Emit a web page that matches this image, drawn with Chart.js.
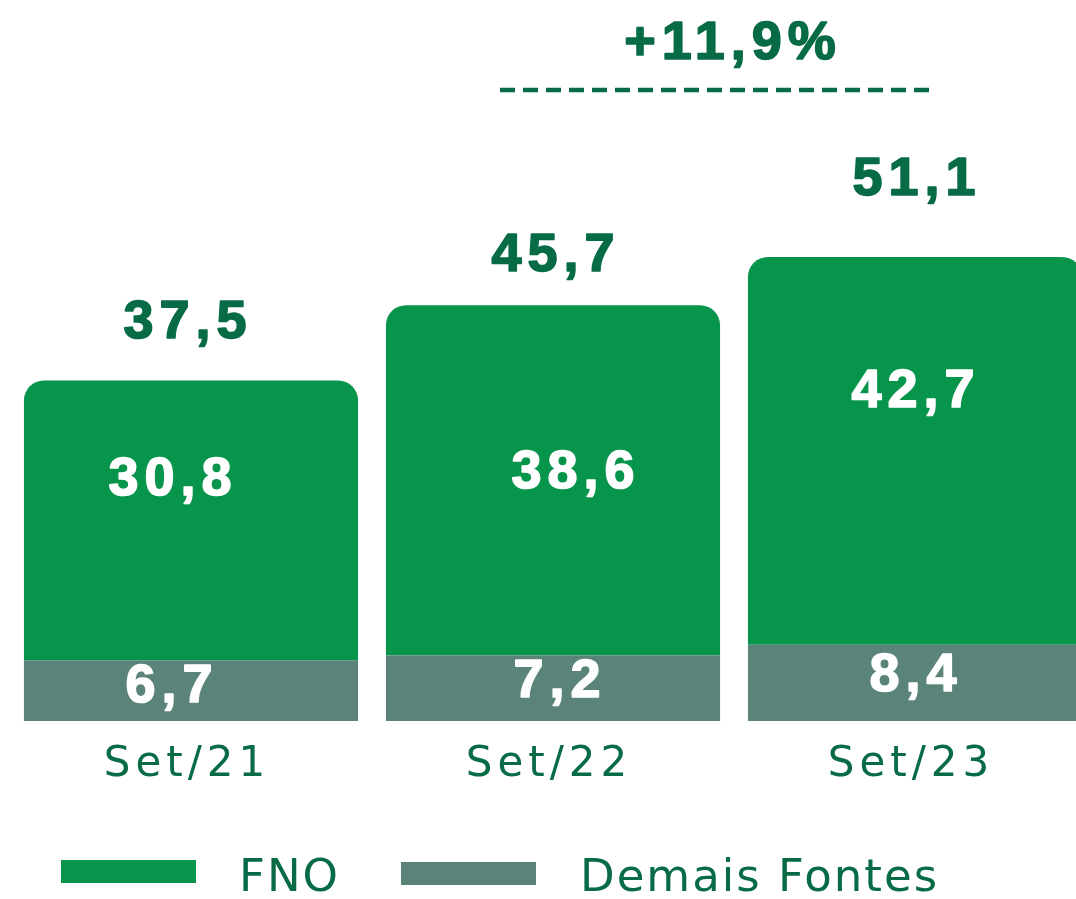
<!DOCTYPE html>
<html>
<head>
<meta charset="utf-8">
<script src="https://cdn.jsdelivr.net/npm/chart.js@4.4.1/dist/chart.umd.min.js"></script>
<style>
    html, body { margin: 0; padding: 0; background: #fff; overflow: hidden; }
    #wrap { position: relative; width: 1100px; height: 899px; }
</style>
</head>
<body>
<div id="wrap"><canvas id="chart"></canvas></div>
<script>
// Data
const categories = ['Set/21', 'Set/22', 'Set/23'];
const fnoValues = [30.8, 38.6, 42.7];
const demaisValues = [6.7, 7.2, 8.4];
const totalValues = [37.5, 45.7, 51.1];
const seriesNames = ['FNO', 'Demais Fontes'];
const growthLabel = '+11,9%';

// Colours and label nudges (style only)
const GREEN = '#07954c';
const GREY = '#5a837a';
const DARK = '#076c46';
const totalLift = [57, 49, 77];
const totalShift = [-6, 0, -1];
const fnoNudge = [[-21, -40], [20, -7], [-2, -59]];
const demaisNudge = [[-22, -3], [4, -6], [-2, -7]];

const fmt = v => v.toFixed(1).replace('.', ',');
const BOLD = 'bold 54px "Liberation Sans", Arial, sans-serif';
const REG = '"DejaVu Sans", sans-serif';

// bold text, thickened a little with a stroke
function heavyText(ctx, text, x, y, color) {
    ctx.fillStyle = color;
    ctx.strokeStyle = color;
    ctx.lineWidth = 1.6;
    ctx.fillText(text, x, y);
    ctx.strokeText(text, x, y);
}

// value labels, totals, growth bracket and legend
const labelsPlugin = {
    id: 'labels',
    beforeDraw(chart) {
        chart.ctx.letterSpacing = '5px';
    },
    afterDraw(chart) {
        const ctx = chart.ctx;
        const greyMeta = chart.getDatasetMeta(0);
        const greenMeta = chart.getDatasetMeta(1);
        ctx.save();
        ctx.font = BOLD;
        ctx.letterSpacing = '6px';
        ctx.textAlign = 'center';
        ctx.textBaseline = 'middle';
        ctx.lineJoin = 'round';

        greenMeta.data.forEach((bar, i) => {
            const mid = (bar.y + bar.base) / 2;
            heavyText(ctx, fmt(fnoValues[i]), bar.x + fnoNudge[i][0] + 3, mid + fnoNudge[i][1], '#fff');
            heavyText(ctx, fmt(totalValues[i]), bar.x + totalShift[i] + 3, bar.y - totalLift[i], DARK);
        });
        greyMeta.data.forEach((bar, i) => {
            const mid = (bar.y + bar.base) / 2;
            heavyText(ctx, fmt(demaisValues[i]), bar.x + demaisNudge[i][0] + 3, mid + demaisNudge[i][1], '#fff');
        });

        // growth bracket between Set/22 and Set/23
        const x1 = greenMeta.data[1].x;
        const x2 = greenMeta.data[2].x;
        heavyText(ctx, growthLabel, (x1 + x2) / 2 - 1, 44, DARK);
        ctx.lineWidth = 4.5;
        ctx.setLineDash([15, 8]);
        ctx.beginPath();
        ctx.moveTo(x1 - 53, 90);
        ctx.lineTo(x2 + 21, 90);
        ctx.stroke();
        ctx.setLineDash([]);

        // legend
        ctx.textAlign = 'left';
        ctx.font = '45px ' + REG;
        ctx.letterSpacing = '2px';
        const items = [
            { box: [61, 860], text: 239, color: GREEN, name: seriesNames[0] },
            { box: [401, 862], text: 580, color: GREY, name: seriesNames[1] }
        ];
        items.forEach(it => {
            ctx.fillStyle = it.color;
            ctx.fillRect(it.box[0], it.box[1], 135, 23);
            ctx.fillStyle = DARK;
            ctx.fillText(it.name, it.text, 879);
        });
        ctx.restore();
    }
};

new Chart(document.getElementById('chart'), {
    type: 'bar',
    data: {
        labels: categories,
        datasets: [
            {
                label: seriesNames[1],
                data: demaisValues,
                backgroundColor: GREY,
                barPercentage: 0.923,
                categoryPercentage: 1
            },
            {
                label: seriesNames[0],
                data: fnoValues,
                backgroundColor: GREEN,
                borderRadius: { topLeft: 20, topRight: 20, bottomLeft: 0, bottomRight: 0 },
                borderSkipped: false,
                barPercentage: 0.923,
                categoryPercentage: 1
            }
        ]
    },
    options: {
        responsive: true,
        maintainAspectRatio: false,
        animation: false,
        layout: {
            padding: { top: 40, left: 10, right: 4, bottom: 108 }
        },
        scales: {
            x: {
                stacked: true,
                grid: { display: false, drawTicks: false },
                border: { display: false },
                ticks: {
                    color: DARK,
                    padding: 19,
                    labelOffset: -4,
                    font: { family: REG, size: 42 }
                },
                afterFit: scale => { scale.height = 70; }
            },
            y: {
                stacked: true,
                display: false,
                min: 0,
                max: 75
            }
        },
        plugins: {
            legend: { display: false },
            tooltip: { enabled: false }
        }
    },
    plugins: [labelsPlugin]
});
</script>
</body>
</html>
